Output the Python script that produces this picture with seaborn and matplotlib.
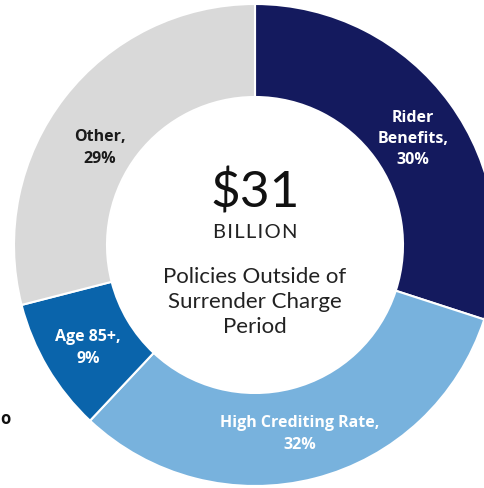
import matplotlib
matplotlib.use("Agg")
import matplotlib.pyplot as plt
import seaborn as sns

# Share of $31B in policies outside the surrender charge period
categories = ["Rider Benefits", "High Crediting Rate", "Age 85+", "Other"]
shares = [30, 32, 9, 29]
label_texts = ["Rider\nBenefits,\n30%", "High Crediting Rate,\n32%", "Age 85+,\n9%", "Other,\n29%"]
colors = ["#141a5e", "#78b2dd", "#0a64ab", "#d9d9d9"]
label_colors = ["white", "white", "white", "#1a1a1a"]

sns.set_theme(style="white")
plt.rcParams["font.family"] = ["Open Sans", "DejaVu Sans"]

W, H = 485, 489
fig = plt.figure(figsize=(W / 100, H / 100), dpi=100)
ax = fig.add_axes([0, 0, 1, 1])

cx, cy = 255, H - 246
r_out, r_in = 241, 148

ax.pie(shares, colors=colors, startangle=90, counterclock=False,
       center=(cx, cy), radius=r_out, frame=True,
       wedgeprops=dict(width=r_out - r_in, edgecolor="white", linewidth=1.5))
ax.set_xlim(0, W)
ax.set_ylim(0, H)
ax.set_aspect("equal")
ax.axis("off")

# slice labels (pixel positions measured from the top)
label_pos = [(413, 139), (300, 434), (88, 348), (100, 148)]
for txt, (x, y), c in zip(label_texts, label_pos, label_colors):
    ax.text(x, H - y, txt, ha="center", va="center", color=c,
            fontsize=11.5, fontweight="bold", linespacing=1.45)

# centre text
ax.text(cx, H - 193, "$31", ha="center", va="center", fontsize=37,
        family=["Lato", "DejaVu Sans"], color="#111111")
ax.text(cx, H - 233, "B I L L I O N".replace(" ", "\u200a"), ha="center", va="center",
        fontsize=14.5, family=["Lato", "DejaVu Sans"], color="#222222")
ax.text(cx, H - 302, "Policies Outside of\nSurrender Charge\nPeriod", ha="center",
        va="center", fontsize=16, family=["Lato", "DejaVu Sans"], color="#222222",
        linespacing=1.33)

# cut-off word at the left edge
ax.text(5, H - 419, "o", ha="center", va="center", fontsize=12,
        fontweight="bold", color="#111111")

fig.savefig("out.png", dpi=100, facecolor="white")
